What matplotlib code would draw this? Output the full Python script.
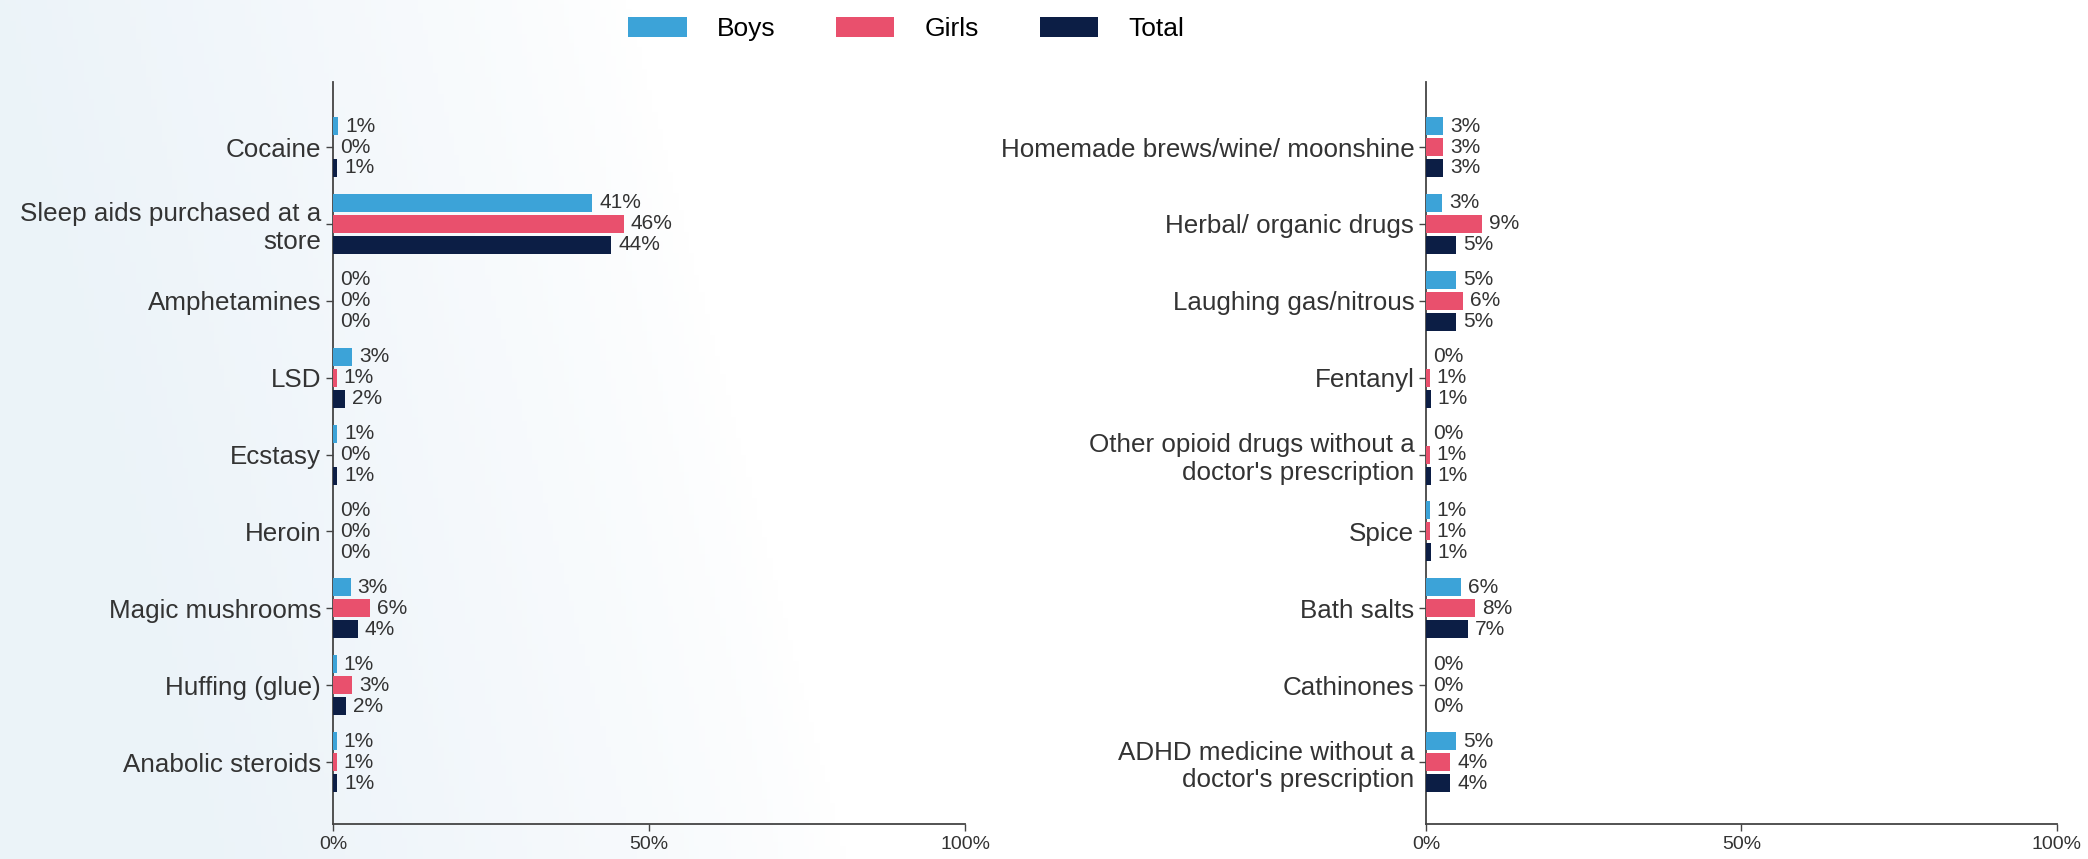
import matplotlib.pyplot as plt
import numpy as np

plt.rcParams["font.family"] = ["Liberation Sans", "DejaVu Sans"]

# Data
series = ["Boys", "Girls", "Total"]
colors = ["#3ca3d8", "#e9506d", "#0c1e45"]

left_cats = [
    "Cocaine",
    "Sleep aids purchased at a\nstore",
    "Amphetamines",
    "LSD",
    "Ecstasy",
    "Heroin",
    "Magic mushrooms",
    "Huffing (glue)",
    "Anabolic steroids",
]
left_boys = [0.8, 41, 0, 3, 0.7, 0, 2.8, 0.6, 0.6]
left_girls = [0, 46, 0, 0.6, 0, 0, 5.9, 3, 0.6]
left_total = [0.7, 44, 0, 1.9, 0.7, 0, 3.9, 2, 0.7]

right_cats = [
    "Homemade brews/wine/ moonshine",
    "Herbal/ organic drugs",
    "Laughing gas/nitrous",
    "Fentanyl",
    "Other opioid drugs without a\ndoctor's prescription",
    "Spice",
    "Bath salts",
    "Cathinones",
    "ADHD medicine without a\ndoctor's prescription",
]
right_boys = [2.7, 2.6, 4.8, 0, 0, 0.6, 5.6, 0, 4.8]
right_girls = [2.7, 8.9, 5.8, 0.6, 0.6, 0.6, 7.8, 0, 3.8]
right_total = [2.7, 4.8, 4.8, 0.7, 0.7, 0.7, 6.6, 0, 3.8]

xticks = [0, 50, 100]
xticklabels = ["0%", "50%", "100%"]

fig = plt.figure(figsize=(20.88, 8.59), dpi=100)
fig.patch.set_facecolor("white")

# soft blue gradient on the left side of the background
bg = fig.add_axes([0, 0, 1, 1], zorder=-1)
gx, gy = np.meshgrid(np.linspace(0, 1, 400), np.linspace(0, 1, 200))
f = np.clip(1 - gx / 0.30 + 0.35 * gy, 0, 1) ** 0.8
base = np.array([0.925, 0.953, 0.976])
img = 1 - f[..., None] * (1 - base)
bg.imshow(img, extent=[0, 1, 0, 1], aspect="auto", origin="upper")
bg.set_axis_off()

text_color = "#333333"
bar_h = 0.234
pitch = 0.273


def draw_panel(ax, cats, vals):
    y = np.arange(len(cats))
    for i, (name, v, c) in enumerate(zip(series, vals, colors)):
        yy = y + (i - 1) * pitch
        ax.barh(yy, v, height=bar_h, color=c, label=name, zorder=3)
        for val, py in zip(v, yy):
            ax.annotate(
                f"{round(val)}%",
                xy=(val, py),
                xytext=(5, 0),
                textcoords="offset points",
                va="center",
                ha="left",
                fontsize=15,
                color=text_color,
            )
    ax.set_yticks(y)
    ax.set_yticklabels(cats, fontsize=18.7, color=text_color)
    ax.set_ylim(8.806, -0.845)
    ax.set_xlim(0, 100)
    ax.set_xticks(xticks)
    ax.set_xticklabels(xticklabels, fontsize=14, color=text_color)
    ax.set_facecolor("none")
    for s in ["top", "right"]:
        ax.spines[s].set_visible(False)
    for s in ["left", "bottom"]:
        ax.spines[s].set_color("#444444")
        ax.spines[s].set_linewidth(1.3)
    ax.tick_params(axis="both", colors="#444444", length=5, width=1)
    ax.tick_params(axis="both", labelcolor=text_color)


ax1 = fig.add_axes([0.1595, 0.0407, 0.3027, 0.8638])
draw_panel(ax1, left_cats, [left_boys, left_girls, left_total])

ax2 = fig.add_axes([0.683, 0.0407, 0.302, 0.8638])
draw_panel(ax2, right_cats, [right_boys, right_girls, right_total])

handles, labels = ax1.get_legend_handles_labels()
fig.legend(
    handles,
    labels,
    loc="center",
    bbox_to_anchor=(0.434, 0.966),
    ncol=3,
    frameon=False,
    fontsize=19,
    handlelength=2.2,
    handleheight=0.75,
    columnspacing=2.3,
    handletextpad=1.15,
)

plt.savefig("out.png", dpi=100)
